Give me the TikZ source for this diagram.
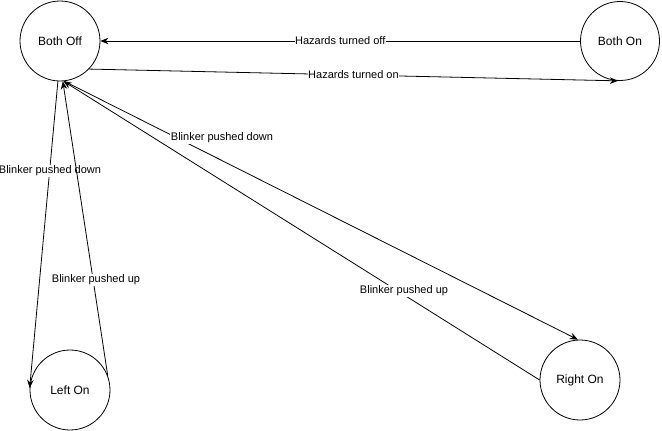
\documentclass[tikz,border=0pt]{standalone}
\usepackage{fontspec}
\setmainfont{Liberation Sans}
\usetikzlibrary{arrows.meta}
\begin{document}
\begin{tikzpicture}[x=1pt,y=-1pt,
  state/.style={draw=black,line width=0.8pt,circle,minimum size=80pt,inner sep=0pt,font=\fontsize{12}{14}\selectfont},
  edge/.style={draw=black,line width=0.8pt,-{Stealth[length=8pt,width=6.5pt,inset=2.5pt]}},
  lbl/.style={fill=white,inner sep=0.5pt,font=\fontsize{11}{13}\selectfont}]
\useasboundingbox[fill=white] (0,0) rectangle (662,431);
\node[state] (bo) at (60,41) {Both Off};
\node[state,minimum size=79pt] (bn) at (620,41) {Both On};
\node[state] (lo) at (70,390) {Left On};
\node[state] (ro) at (580,380) {Right On};
% hazards
\draw[edge] (bn.west) -- node[lbl] (l1) {Hazards turned off} (bo.east);
\draw[edge] (bo.-44) -- node[lbl] (l2) {Hazards turned on} (bn.-93);
% left
\draw[edge] (bo.-93) -- (lo.177);
\node[lbl] (l3) at (50,171) {Blinker pushed down};
\draw[edge] (lo.21) -- (bo.-86);
\node[lbl] (l4) at (96,280) {Blinker pushed up};
% right
\draw[edge] (bo.-84) -- (ro.93);
\node[lbl] (l5) at (222,138) {Blinker pushed down};
\draw[edge] (ro.west) -- (bo.-85);
\node[lbl] (l6) at (404,291) {Blinker pushed up};
\end{tikzpicture}
\end{document}
